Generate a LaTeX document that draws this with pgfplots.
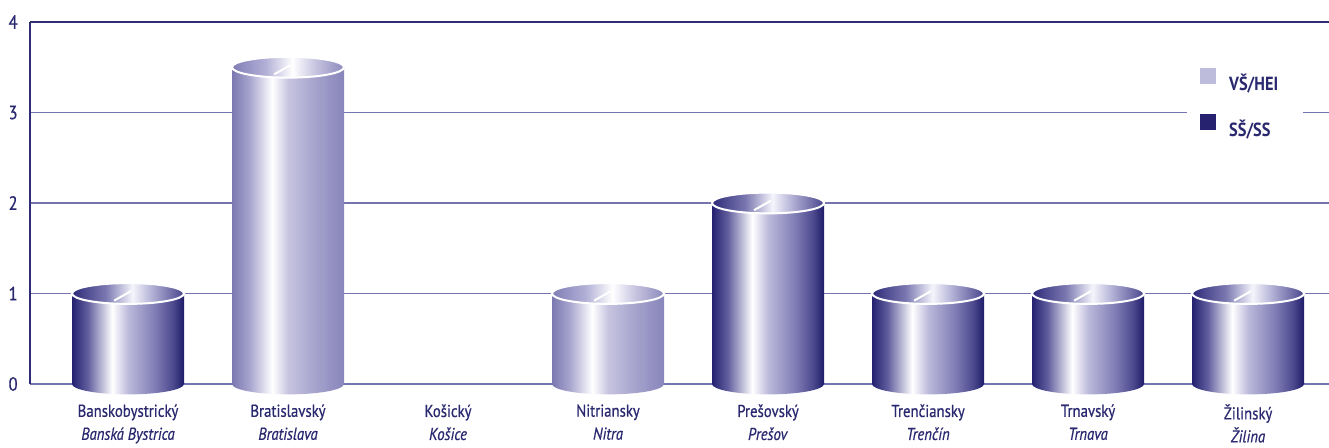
\documentclass[border=0pt]{standalone}
\usepackage{fontspec}
\setmainfont{PT Sans}[FakeStretch=0.86]
\newfontfamily\labfont{PT Sans}[FakeStretch=0.86, FakeBold=0.6]
\usepackage{pgfplots}
\pgfplotsset{compat=1.18}

\definecolor{navyT}{RGB}{42,41,112}
\definecolor{axisD}{RGB}{46,45,118}
\definecolor{gridC}{RGB}{118,116,174}
\definecolor{legL}{RGB}{190,188,219}
\definecolor{legD}{RGB}{38,34,112}

% side shadings (25bp = left edge, 75bp = right edge of the bar)
\pgfdeclarehorizontalshading{sideD}{100bp}{rgb(0bp)=(0.14,0.13,0.44); rgb(25bp)=(0.14,0.13,0.44); rgb(32bp)=(0.38,0.37,0.62); rgb(43bp)=(1,1,1); rgb(50bp)=(0.74,0.73,0.86); rgb(62bp)=(0.50,0.49,0.71); rgb(70bp)=(0.30,0.29,0.56); rgb(75bp)=(0.12,0.11,0.41); rgb(100bp)=(0.12,0.11,0.41)}
\pgfdeclarehorizontalshading{sideL}{100bp}{rgb(0bp)=(0.48,0.47,0.69); rgb(25bp)=(0.48,0.47,0.69); rgb(33bp)=(0.66,0.65,0.81); rgb(43bp)=(1,1,1); rgb(50bp)=(0.78,0.77,0.88); rgb(62bp)=(0.65,0.64,0.80); rgb(75bp)=(0.53,0.52,0.73); rgb(100bp)=(0.53,0.52,0.73)}
% top shadings
\pgfdeclarehorizontalshading{topD}{100bp}{rgb(0bp)=(0.18,0.17,0.48); rgb(25bp)=(0.18,0.17,0.48); rgb(40bp)=(0.48,0.47,0.69); rgb(52bp)=(0.96,0.96,0.99); rgb(62bp)=(0.66,0.65,0.81); rgb(75bp)=(0.28,0.27,0.55); rgb(100bp)=(0.28,0.27,0.55)}
\pgfdeclarehorizontalshading{topL}{100bp}{rgb(0bp)=(0.50,0.49,0.71); rgb(25bp)=(0.50,0.49,0.71); rgb(40bp)=(0.70,0.69,0.84); rgb(52bp)=(1,1,1); rgb(62bp)=(0.78,0.77,0.88); rgb(75bp)=(0.55,0.54,0.74); rgb(100bp)=(0.55,0.54,0.74)}

\pgfdeclareplotmark{cyltopD}{%
  \pgfpathellipse{\pgfpointorigin}{\pgfpoint{28pt}{0pt}}{\pgfpoint{0pt}{5.2pt}}%
  \pgfshadepath{topD}{0}%
  \pgfsetstrokecolor{white}\pgfsetlinewidth{1pt}%
  \pgfusepath{stroke}%
  \pgfpathmoveto{\pgfpoint{-7pt}{-3.6pt}}\pgfpathlineto{\pgfpoint{1.5pt}{1.2pt}}%
  \pgfusepath{stroke}%
}
\pgfdeclareplotmark{cyltopL}{%
  \pgfpathellipse{\pgfpointorigin}{\pgfpoint{28pt}{0pt}}{\pgfpoint{0pt}{5.2pt}}%
  \pgfshadepath{topL}{0}%
  \pgfsetstrokecolor{white}\pgfsetlinewidth{1pt}%
  \pgfusepath{stroke}%
  \pgfpathmoveto{\pgfpoint{-7pt}{-3.6pt}}\pgfpathlineto{\pgfpoint{1.5pt}{1.2pt}}%
  \pgfusepath{stroke}%
}
\pgfdeclareplotmark{cylbotD}{%
  \pgfpathmoveto{\pgfpoint{-28pt}{0.4pt}}\pgfpathlineto{\pgfpoint{-28pt}{0pt}}%
  \pgfpatharc{180}{360}{28pt and 5.2pt}%
  \pgfpathlineto{\pgfpoint{28pt}{0.4pt}}\pgfpathclose
  \pgfshadepath{sideD}{0}\pgfusepath{}%
}
\pgfdeclareplotmark{cylbotL}{%
  \pgfpathmoveto{\pgfpoint{-28pt}{0.4pt}}\pgfpathlineto{\pgfpoint{-28pt}{0pt}}%
  \pgfpatharc{180}{360}{28pt and 5.2pt}%
  \pgfpathlineto{\pgfpoint{28pt}{0.4pt}}\pgfpathclose
  \pgfshadepath{sideL}{0}\pgfusepath{}%
}

\pgfplotsset{
  barD/.style={ybar, bar width=56pt, bar shift=0pt, draw=none, mark=none, shade, shading=sideD, forget plot},
  barL/.style={ybar, bar width=56pt, bar shift=0pt, draw=none, mark=none, shade, shading=sideL, forget plot},
}

\begin{document}
\begin{tikzpicture}
\begin{axis}[
    name=ax,
    scale only axis,
    width=649.5pt, height=181pt,
    xmin=-0.6125, xmax=7.506,
    ymin=0, ymax=4,
    clip=false,
    axis line style={draw=none},
    major tick length=0pt,
    tick style={draw=none},
    xtick={0,...,7},
    xticklabels={{Banskobystrický\\\textit{Banská Bystrica}},
                 {Bratislavský\\\textit{Bratislava}},
                 {Košický\\\textit{Košice}},
                 {Nitriansky\\\textit{Nitra}},
                 {Prešovský\\\textit{Prešov}},
                 {Trenčiansky\\\textit{Trenčín}},
                 {Trnavský\\\textit{Trnava}},
                 {Žilinský\\\textit{Žilina}}},
    xticklabel style={align=center, inner sep=0pt, yshift=-10pt, text=navyT,
                      font=\labfont\fontsize{8.6}{11.5}\selectfont},
    ytick={0,1,2,3},
    extra y ticks={4},
    extra y tick style={grid=major, major grid style={axisD, line width=0.8pt}},
    extra x ticks={-0.6125},
    extra x tick labels={},
    extra x tick style={grid=major, major grid style={axisD, line width=0.8pt}},
    yticklabel style={inner sep=0pt, xshift=-6pt, text=navyT,
                      font=\labfont\fontsize{9.6}{10}\selectfont},
    /pgf/number format/assume math mode=true,
    ymajorgrids=true,
    grid style={gridC, line width=0.7pt},
    legend cell align=left,
    legend style={at={(0.8907,0.917)}, anchor=north west, draw=none, fill=white,
                  inner xsep=6.5pt, inner ysep=8pt, row sep=11.5pt, column sep=6.5pt,
                  font=\fontsize{9.5}{10}\selectfont\bfseries, text=navyT,
                  nodes={inner sep=0pt, text height=7.5pt, text depth=0pt,
                         text width=30.5pt, align=left, text=navyT}},
]
% side walls, one plot for each bar
\addplot[barD] coordinates {(0,1)};
\addplot[barL] coordinates {(1,3.5)};
\addplot[barL] coordinates {(3,1)};
\addplot[barD] coordinates {(4,2)};
\addplot[barD] coordinates {(5,1)};
\addplot[barD] coordinates {(6,1)};
\addplot[barD] coordinates {(7,1)};
% bottoms and tops
\addplot[only marks, mark=cylbotD, forget plot] coordinates {(0,0)(4,0)(5,0)(6,0)(7,0)};
\addplot[only marks, mark=cylbotL, forget plot] coordinates {(1,0)(3,0)};
\addplot[only marks, mark=cyltopD, forget plot] coordinates {(0,1)(4,2)(5,1)(6,1)(7,1)};
\addplot[only marks, mark=cyltopL, forget plot] coordinates {(1,3.5)(3,1)};

\addlegendimage{legend image code/.code={\fill[legL] (0pt,-0.2pt) rectangle (7.5pt,7.3pt);}}
\addlegendentry{VŠ/HEI}
\addlegendimage{legend image code/.code={\fill[legD] (0pt,-0.2pt) rectangle (7.5pt,7.3pt);}}
\addlegendentry{SŠ/SS}
\end{axis}
\pgfresetboundingbox
\path[use as bounding box] ([shift={(-15pt,-32pt)}]ax.south west) rectangle ([shift={(0pt,11pt)}]ax.north east);
\end{tikzpicture}
\end{document}
